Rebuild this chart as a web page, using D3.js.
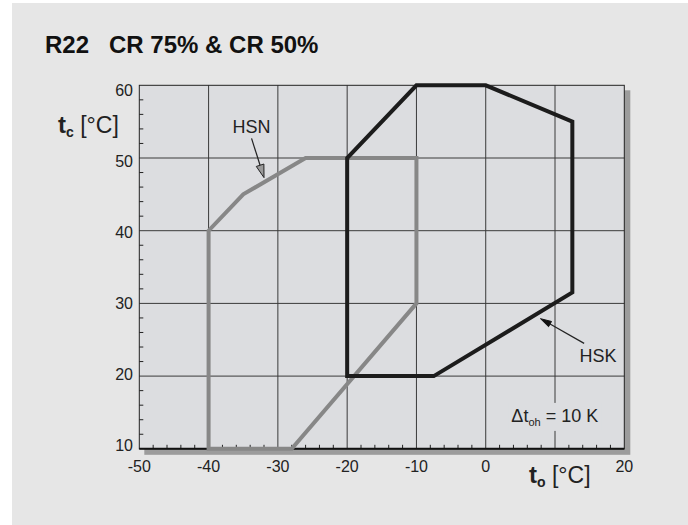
<!DOCTYPE html>
<html>
<head>
<meta charset="utf-8">
<script src="https://cdn.jsdelivr.net/npm/d3@7"></script>
<style>
  html, body { margin: 0; padding: 0; background: #ffffff; }
  svg { display: block; font-family: "Liberation Sans", Arial, sans-serif; }
</style>
</head>
<body>
<svg id="chart" width="688" height="525"></svg>
<script>
// ---- data ----
const title = "R22   CR 75% & CR 50%";
const xTickValues = [-50, -40, -30, -20, -10, 0, 20];
const xTickLabels = ["-50", "-40", "-30", "-20", "-10", "0", "20"];
const yTickValues = [10, 20, 30, 40, 50, 60];
const yTickLabels = ["10", "20", "30", "40", "50", "60"];
const hskX = [-20, -20, -10, 0, 12.5, 12.5, -7.5];
const hskY = [20, 50, 60, 60, 55, 31.5, 20];
const hsnX = [-40, -40, -35, -26, -10, -10, -28];
const hsnY = [10, 40, 45, 50, 50, 30, 10];
const hsnLabel = { text: "HSN", x: -33.8, y: 53.5, ax: -33.8, ay: 52.7, tx: -32.0, ty: 47.3 };
const hskLabel = { text: "HSK", x: 16.2, y: 22.0, ax: 14.2, ay: 24.5, tx: 7.9, ty: 27.9 };
const dtLabel = { x: 3.7, y: 13.7 };

// ---- layout ----
const svg = d3.select("#chart");
const L = 139.3, R = 624.3, T = 85.3, B = 448.8;
const x = d3.scaleLinear().domain([-50, 20]).range([L, R]);
const y = d3.scaleLinear().domain([10, 60]).range([B, T]);
const yLab = d3.scaleLinear().domain([10, 60]).range([451, 96]);

// panel
svg.append("rect").attr("x", 12).attr("y", 3).attr("width", 676).attr("height", 522).attr("fill", "#e6e6e6");

// title
svg.append("text").attr("x", 45).attr("y", 53).attr("font-size", 24).attr("font-weight", "bold")
  .attr("fill", "#111").attr("xml:space", "preserve").style("white-space", "pre").text(title);

// shadow
svg.append("rect").attr("x", L + 5).attr("y", T + 5).attr("width", R - L + 1).attr("height", B - T + 1)
  .attr("fill", "#9c9c9c");
// plot bg
svg.append("rect").attr("x", L).attr("y", T).attr("width", R - L).attr("height", B - T).attr("fill", "#dcdde0");

// grid
const g = svg.append("g");
g.selectAll("line.vg").data(d3.range(-40, 20, 10)).enter().append("line")
  .attr("x1", d => x(d)).attr("x2", d => x(d)).attr("y1", T).attr("y2", B)
  .attr("stroke", "#3a3a3a").attr("stroke-width", 1);
g.selectAll("line.hg").data(d3.range(20, 60, 10)).enter().append("line")
  .attr("y1", d => y(d)).attr("y2", d => y(d)).attr("x1", L).attr("x2", R)
  .attr("stroke", "#3a3a3a").attr("stroke-width", 1);

// Δt label with background (interrupts grid)
const dtText = svg.append("text").attr("x", x(dtLabel.x)).attr("y", y(dtLabel.y)).attr("font-size", 18).attr("fill", "#222");
dtText.append("tspan").text("\u0394t");
dtText.append("tspan").attr("font-size", 11).attr("dy", 4).text("oh");
dtText.append("tspan").attr("dy", -4).text(" = 10 K");
const bb = dtText.node().getBBox();
svg.insert("rect", "text:last-of-type").attr("x", bb.x - 3).attr("y", bb.y - 3).attr("width", bb.width + 6).attr("height", bb.height + 6)
  .attr("fill", "#dcdde0");
dtText.raise();

// minor ticks
const ticks = svg.append("g");
ticks.selectAll("line.yt").data(d3.range(12, 60, 2).filter(d => d % 10 !== 0)).enter().append("line")
  .attr("x1", L).attr("x2", L + 4).attr("y1", d => y(d)).attr("y2", d => y(d))
  .attr("stroke", "#222").attr("stroke-width", 1);
ticks.selectAll("line.xt").data(d3.range(-48, 20, 2).filter(d => d % 10 !== 0)).enter().append("line")
  .attr("x1", d => x(d)).attr("x2", d => x(d)).attr("y1", B).attr("y2", B - 4)
  .attr("stroke", "#222").attr("stroke-width", 1);

// frame
svg.append("rect").attr("x", L).attr("y", T).attr("width", R - L).attr("height", B - T)
  .attr("fill", "none").attr("stroke", "#222").attr("stroke-width", 1);
svg.append("line").attr("x1", L).attr("x2", R).attr("y1", B).attr("y2", B).attr("stroke", "#111").attr("stroke-width", 2);

// series
const line = d3.line().x(d => x(d[0])).y(d => y(d[1])).curve(d3.curveLinearClosed);
const hsn = hsnX.map((v, i) => [v, hsnY[i]]);
const hsk = hskX.map((v, i) => [v, hskY[i]]);
svg.append("path").attr("d", line(hsn)).attr("fill", "none").attr("stroke", "#878787").attr("stroke-width", 4).attr("stroke-linejoin", "miter");
svg.append("path").attr("d", line(hsk)).attr("fill", "none").attr("stroke", "#1c1c1c").attr("stroke-width", 4).attr("stroke-linejoin", "miter");

// y tick labels
svg.selectAll("text.yl").data(yTickValues).enter().append("text")
  .attr("x", 133).attr("y", d => yLab(d)).attr("text-anchor", "end").attr("font-size", 16).attr("fill", "#222")
  .text((d, i) => yTickLabels[i]);
// x tick labels
svg.selectAll("text.xl").data(xTickValues).enter().append("text")
  .attr("x", d => x(d)).attr("y", 471.5).attr("text-anchor", "middle").attr("font-size", 16).attr("fill", "#222")
  .text((d, i) => xTickLabels[i]);

// axis titles
const yt = svg.append("text").attr("x", 58).attr("y", 133).attr("font-size", 23).attr("fill", "#222");
yt.append("tspan").attr("font-weight", "bold").attr("font-size", 24).text("t");
yt.append("tspan").attr("font-weight", "bold").attr("font-size", 14).attr("dy", 4).text("c");
yt.append("tspan").attr("dy", -4).text(" [\u00b0C]");
const xt = svg.append("text").attr("x", 529).attr("y", 483).attr("font-size", 23).attr("fill", "#222");
xt.append("tspan").attr("font-weight", "bold").attr("font-size", 24).text("t");
xt.append("tspan").attr("font-weight", "bold").attr("font-size", 14).attr("dy", 4).text("o");
xt.append("tspan").attr("dy", -4).text(" [\u00b0C]");

// annotations
function arrow(lab, fill, stroke, len, wid) {
  const x1 = x(lab.ax), y1 = y(lab.ay), x2 = x(lab.tx), y2 = y(lab.ty);
  const ang = Math.atan2(y2 - y1, x2 - x1);
  const bx = x2 - len * Math.cos(ang), by = y2 - len * Math.sin(ang);
  svg.append("line").attr("x1", x1).attr("y1", y1).attr("x2", bx).attr("y2", by).attr("stroke", "#222").attr("stroke-width", 1.2);
  const px = -Math.sin(ang) * wid / 2, py = Math.cos(ang) * wid / 2;
  svg.append("path").attr("d", `M${x2},${y2}L${bx + px},${by + py}L${bx - px},${by - py}Z`)
    .attr("fill", fill).attr("stroke", stroke).attr("stroke-width", 1);
  svg.append("text").attr("x", x(lab.x)).attr("y", y(lab.y)).attr("text-anchor", "middle").attr("font-size", 18)
    .attr("fill", "#222").text(lab.text);
}
arrow(hsnLabel, "#9a9a9a", "#222", 13, 8);
arrow(hskLabel, "#111", "#111", 11, 6);
</script>
</body>
</html>
